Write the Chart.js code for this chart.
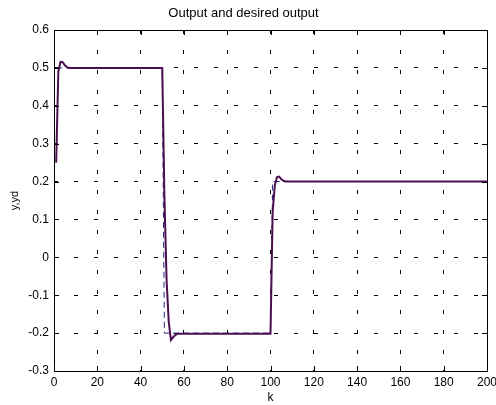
<!DOCTYPE html>
<html><head><meta charset="utf-8">
<script src="https://cdn.jsdelivr.net/npm/chart.js@4/dist/chart.umd.min.js"></script>
<style>html,body{margin:0;padding:0;background:#fff}#wrap{position:relative;width:496px;height:405px}</style>
</head><body><div id="wrap"><canvas id="c"></canvas></div>
<script>
// Output y (solid) — breakpoints
const kY = [1, 2, 3, 4, 5, 6, 7, 50, 51, 52, 53, 54, 55, 56, 57, 100, 101, 102, 103, 104, 105, 106, 107, 200];
const yVals = [0.25, 0.49, 0.516, 0.515, 0.507, 0.502, 0.5, 0.5, 0.16, -0.06, -0.17, -0.218, -0.211, -0.205, -0.202, -0.202, 0.12, 0.19, 0.212, 0.213, 0.206, 0.202, 0.2, 0.2];
// Desired output yd (dashed)
const kD = [1, 50, 51, 100, 101, 200];
const ydVals = [0.5, 0.5, -0.2, -0.2, 0.2, 0.2];
// Ticks
const xTickValues = [0, 20, 40, 60, 80, 100, 120, 140, 160, 180, 200];
const xTickLabels = ['0', '20', '40', '60', '80', '100', '120', '140', '160', '180', '200'];
const yTickValues = [-0.3, -0.2, -0.1, 0, 0.1, 0.2, 0.3, 0.4, 0.5, 0.6];
const yTickLabels = ['-0.3', '-0.2', '-0.1', '0', '0.1', '0.2', '0.3', '0.4', '0.5', '0.6'];

const FONT = 'Liberation Sans, Arial, Helvetica, sans-serif';

const boxPlugin = {
  id: 'box',
  afterDatasetsDraw(chart) {
    const ctx = chart.ctx;
    const {left, right, top, bottom} = chart.chartArea;
    const xs = chart.scales.x, ys = chart.scales.y;
    ctx.save();
    ctx.strokeStyle = '#000';
    ctx.lineWidth = 1;
    ctx.setLineDash([]);
    ctx.beginPath();
    ctx.rect(Math.round(left) + 0.5, Math.round(top) + 0.5, Math.round(right - left), Math.round(bottom - top));
    ctx.stroke();
    ctx.beginPath();
    xTickValues.forEach(v => {
      const p = Math.round(xs.getPixelForValue(v)) + 0.5;
      ctx.moveTo(p, bottom); ctx.lineTo(p, bottom - 5);
      ctx.moveTo(p, top); ctx.lineTo(p, top + 5);
    });
    yTickValues.forEach(v => {
      const p = Math.round(ys.getPixelForValue(v)) + 0.5;
      ctx.moveTo(left, p); ctx.lineTo(left + 5, p);
      ctx.moveTo(right, p); ctx.lineTo(right - 5, p);
    });
    ctx.stroke();
    ctx.restore();
  }
};

new Chart(document.getElementById('c'), {
  type: 'line',
  data: {
    datasets: [
      {
        label: 'y',
        data: kY.map((k, i) => ({x: k, y: yVals[i]})),
        borderColor: '#4b0f4f',
        borderWidth: 2,
        pointRadius: 0,
        tension: 0,
        fill: false
      },
      {
        label: 'yd',
        data: kD.map((k, i) => ({x: k, y: ydVals[i]})),
        borderColor: '#23237e',
        borderWidth: 1,
        borderDash: [6, 4],
        pointRadius: 0,
        tension: 0,
        fill: false
      }
    ]
  },
  options: {
    responsive: true,
    maintainAspectRatio: false,
    animation: false,
    devicePixelRatio: 1,
    layout: {padding: {left: 0, right: 9, top: 0, bottom: 0}},
    plugins: {
      legend: {display: false},
      tooltip: {enabled: false},
      title: {
        display: true,
        text: 'Output and desired output',
        color: '#000',
        font: {family: FONT, size: 13, weight: 'normal', lineHeight: 1.2},
        padding: {top: 6, bottom: 8.4}
      }
    },
    scales: {
      x: {
        type: 'linear',
        min: 0, max: 200,
        afterBuildTicks(scale) { scale.ticks = xTickValues.map(v => ({value: v})); },
        afterFit(scale) { scale.height = 34; scale.paddingLeft = 0; scale.paddingRight = 0; },
        ticks: {
          color: '#000', padding: 4, maxRotation: 0, autoSkip: false,
          font: {family: FONT, size: 12},
          callback: (v, i) => xTickLabels[i]
        },
        grid: {color: '#000', lineWidth: 1, drawTicks: false, tickLength: 0},
        border: {display: false, dash: [4, 16]},
        title: {display: true, text: 'k', color: '#000', font: {family: FONT, size: 12}, padding: {top: 0, bottom: 0}}
      },
      y: {
        type: 'linear',
        min: -0.3, max: 0.6,
        afterBuildTicks(scale) { scale.ticks = yTickValues.map(v => ({value: v})); },
        afterFit(scale) { scale.width = 54; },
        ticks: {
          color: '#000', padding: 5, autoSkip: false,
          font: {family: FONT, size: 12},
          callback: (v, i) => yTickLabels[i]
        },
        grid: {color: '#000', lineWidth: 1, drawTicks: false, tickLength: 0},
        border: {display: false, dash: [4, 16]},
        title: {display: true, text: 'y,yd', color: '#000', font: {family: FONT, size: 11}, padding: {top: 8, bottom: 0}}
      }
    }
  },
  plugins: [boxPlugin]
});
</script>
</body></html>
